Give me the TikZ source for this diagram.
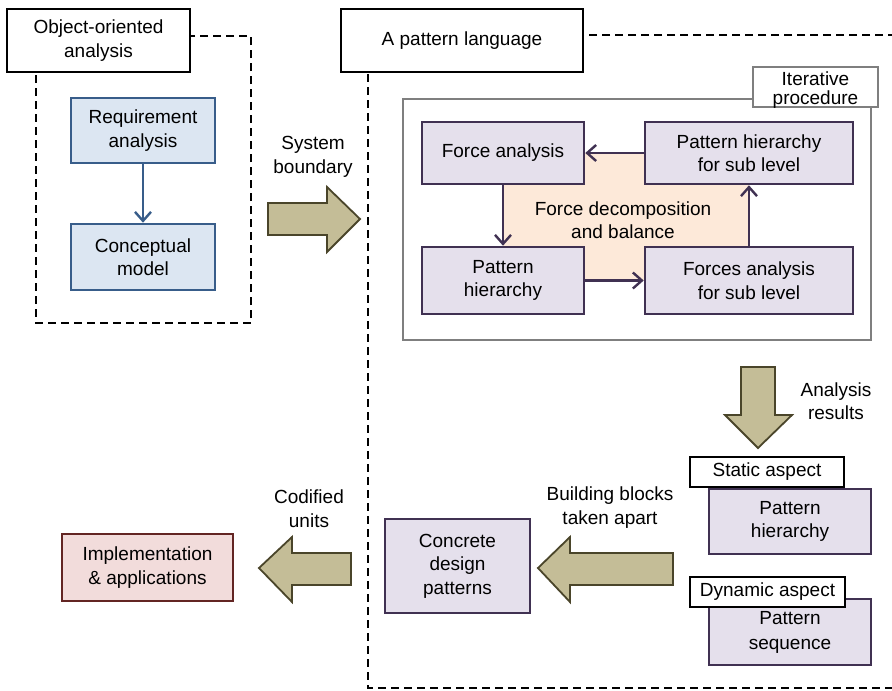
\documentclass[tikz,border=0pt]{standalone}
\usepackage{fontspec}
\setmainfont{Liberation Sans}
\usetikzlibrary{arrows.meta}
\pgfdeclarelayer{background}
\pgfsetlayers{background,main}
\definecolor{bluefill}{HTML}{DCE6F2}
\definecolor{blueline}{HTML}{385D8A}
\definecolor{purpfill}{HTML}{E5E0EC}
\definecolor{purpline}{HTML}{403152}
\definecolor{redfill}{HTML}{F2DCDB}
\definecolor{redline}{HTML}{632523}
\definecolor{orangefill}{HTML}{FDE9D9}
\definecolor{khakifill}{HTML}{C4BD97}
\definecolor{khakiline}{HTML}{4A452A}
\definecolor{grayline}{HTML}{7F7F7F}
\tikzset{
  txt/.style={align=center, inner sep=0pt},
  labelbox/.style={draw=black, fill=white, line width=2.8pt, align=center, inner sep=0pt},
  graylabel/.style={draw=grayline, fill=white, line width=2.8pt, align=center, inner sep=0pt},
  bluebox/.style={draw=blueline, fill=bluefill, line width=2.6pt, align=center, inner sep=0pt},
  purpbox/.style={draw=purpline, fill=purpfill, line width=2.6pt, align=center, inner sep=0pt},
  redbox/.style={draw=redline, fill=redfill, line width=2.6pt, align=center, inner sep=0pt},
  dashbox/.style={draw=black, line width=2.8pt, dash pattern=on 8pt off 5pt},
  blockarrow/.style={draw=khakiline, fill=khakifill, line width=1.8pt, line join=miter},
  purparrow/.style={draw=purpline, line width=2.4pt, -{Straight Barb[length=9pt,width=16pt]}},
  bluearrow/.style={draw=blueline, line width=2.4pt, -{Straight Barb[length=9pt,width=16pt]}},
}
\begin{document}
\begin{tikzpicture}[x=1pt,y=-1pt, font=\fontsize{19}{23.5}\selectfont]
\useasboundingbox (0,0) rectangle (892,691);
\begin{pgfonlayer}{background}
\fill[white] (0,0) rectangle (892,691);
\end{pgfonlayer}

% dashed containers
\draw[dashbox] (36,36) rectangle (251,323);
\draw[dashbox] (368,35) rectangle (915,688);

% object-oriented analysis
\node[labelbox, minimum width=183pt, minimum height=63pt] (oolabel) at (98.5,40.5) {Object-oriented\\analysis};
\node[bluebox, minimum width=144pt, minimum height=65pt] (req) at (143,130.5) {Requirement\\analysis};
\node[bluebox, minimum width=144pt, minimum height=66pt] (concept) at (143,257) {Conceptual\\model};
\draw[bluearrow] (req.south) -- (concept.north);

% pattern language label
\node[labelbox, minimum width=242pt, minimum height=63pt] (pllabel) at (462,40.5) {A pattern language};

% system boundary arrow
\node[txt] (sysb) at (313,157) {System\\boundary};
\draw[blockarrow] (268,203) -- (327,203) -- (327,187) -- (360,219) -- (327,252) -- (327,235) -- (268,235) -- cycle;

% iterative procedure
\draw[draw=grayline, line width=2.8pt] (403,99) rectangle (871,340);
\node[graylabel, minimum width=125pt, minimum height=40pt] (iterlabel) at (815.5,87) {};
\node[txt, font=\fontsize{19}{19.5}\selectfont] (itertext) at (815.5,90) {Iterative\\procedure};

\node[purpbox, minimum width=162pt, minimum height=62pt] (fa) at (503,153) {Force analysis};
\node[purpbox, minimum width=208pt, minimum height=62pt] (phsub) at (749,153) {Pattern hierarchy\\for sub level};
\node[purpbox, minimum width=162pt, minimum height=67pt] (ph) at (503,280.5) {Pattern\\hierarchy};
\node[purpbox, minimum width=208pt, minimum height=67pt] (fasub) at (749,280.5) {Forces analysis\\for sub level};
\begin{pgfonlayer}{background}
\fill[orangefill] (fa.center) rectangle (fasub.center);
\end{pgfonlayer}
\node[txt] (fdb) at (623,220) {Force decomposition\\and balance};

\draw[purparrow] (phsub.west) -- (fa.east);
\draw[purparrow] (fa.south) -- (ph.north);
\draw[purparrow] (ph.east) -- (fasub.west);
\draw[purparrow] (fasub.north) -- (phsub.south);

% analysis results arrow
\draw[blockarrow] (741,367) -- (775,367) -- (775,415) -- (792,415) -- (758,448) -- (725,415) -- (741,415) -- cycle;
\node[txt] (anres) at (836,401) {Analysis\\results};

% static / dynamic aspects
\node[purpbox, minimum width=162pt, minimum height=65pt] (statbox) at (790,521.5) {Pattern\\hierarchy};
\node[labelbox, minimum width=154pt, minimum height=30pt] (statlabel) at (767,472) {Static aspect};
\node[purpbox, minimum width=162pt, minimum height=66pt, font=\fontsize{19}{25}\selectfont] (seqbox) at (790,632) {Pattern\\sequence};
\node[labelbox, minimum width=155pt, minimum height=30pt] (dynlabel) at (767.5,592) {Dynamic aspect};

% concrete design patterns
\node[purpbox, minimum width=145pt, minimum height=94pt] (concrete) at (457.5,566) {Concrete\\design\\patterns};
\draw[blockarrow] (673,553) -- (673,585) -- (570,585) -- (570,602) -- (538,568) -- (570,537) -- (570,553) -- cycle;
\node[txt] (bbta) at (610,507.5) {Building blocks\\taken apart};

% implementation
\node[redbox, minimum width=171pt, minimum height=67pt] (impl) at (147.5,567.5) {Implementation\\\& applications};
\draw[blockarrow] (351,553) -- (351,585) -- (292,585) -- (292,602) -- (259,568) -- (292,537) -- (292,553) -- cycle;
\node[txt] (codu) at (309,508.5) {Codified\\units};
\end{tikzpicture}
\end{document}
